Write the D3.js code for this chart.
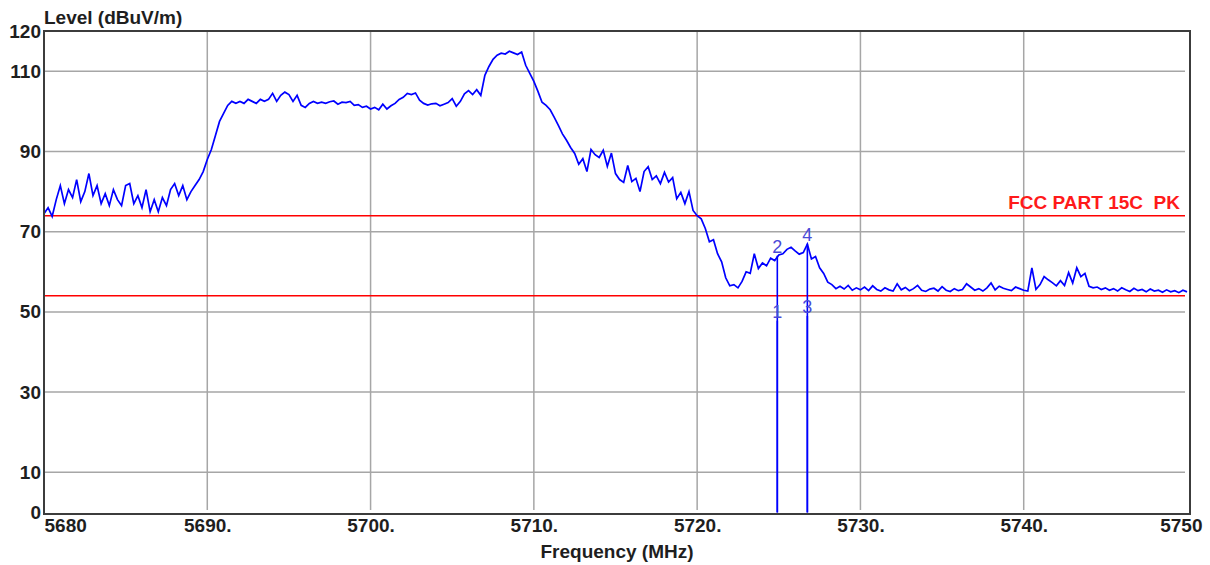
<!DOCTYPE html>
<html>
<head>
<meta charset="utf-8">
<script src="https://cdn.jsdelivr.net/npm/d3@7"></script>
<style>
  body { margin: 0; background: #fff; }
  text { font-family: "Liberation Sans", Arial, sans-serif; }
</style>
</head>
<body>
<div id="vis"></div>
<script>
// Sweep settings (MHz)
const freqStart = 5680;
const freqStep = 0.25;

// Measured level, one value per sweep step (dBuV/m)
const levels = [
  74.5, 76, 73.8, 78, 81.5, 77, 80.5, 78.5, 83, 77.5,
  80, 84.5, 79, 81.5, 77, 79.5, 76.5, 80.5, 78, 76.5,
  81.5, 82, 77, 79, 76, 80.5, 75, 78, 75, 78.5,
  76.5, 80.5, 82, 79, 81.5, 78, 80, 81.5, 83, 85,
  88,
  // 5690 - 5700
  90.5, 94, 97.5, 99.5, 101.5, 102.5, 102, 102.5, 102, 103,
  102.5, 102, 103, 102.5, 103, 104.5, 102.5, 104, 104.8, 104.2,
  102.5, 104, 101.5, 101, 102, 102.5, 102, 102.3, 102, 102.4,
  102.6, 101.8, 102.3, 102.2, 102.5, 101.5, 101.7, 101, 101.3, 100.6,
  // 5700 - 5710
  101, 100.4, 101.8, 100.6, 101.4, 102, 103, 103.5, 104.5, 104.2,
  104.6, 102.8, 102, 101.6, 101.9, 102, 101.4, 101.8, 102.2, 103.2,
  101.3, 102.5, 104.4, 105.2, 104.2, 105.4, 104, 109, 111.2, 113,
  114, 114.5, 114.3, 115, 114.6, 114.2, 114.8, 111.5, 109.5, 107.5,
  // 5710 - 5720
  105, 102.3, 101.5, 100.4, 98.5, 96.5, 94.4, 92.8, 91, 89.5,
  86.8, 88.2, 85, 90.5, 89.2, 88.5, 90.3, 86.3, 89.6, 84.5,
  83, 82.3, 86.5, 82.5, 83.3, 80, 85, 86.2, 83, 83.9,
  82, 84.8, 82.4, 83.5, 78.2, 79.8, 77, 80, 75.3, 74,
  // 5720 - 5730
  73.2, 70.8, 67.5, 68, 64.5, 62.5, 58.5, 56.5, 56.8, 56,
  57.6, 60, 59.6, 64.5, 60.8, 62.2, 61.5, 63.4, 62.8, 64.2,
  64.5, 65.6, 66.1, 65.2, 64.4, 64.8, 66.9, 63.2, 63.8, 61,
  59.6, 57.4, 56.8, 55.8, 56.4, 55.7, 56.6, 55.4, 56, 55.5,
  // 5730 - 5740
  56.2, 55.3, 56.5, 55.6, 55.2, 56, 55.5, 55.2, 57, 55.5,
  56.1, 55.3, 55.8, 56.6, 55.4, 55.1, 55.7, 55.9, 55.2, 56.3,
  55.4, 55.1, 55.8, 55.3, 55.6, 57, 56.2, 55.4, 55.8, 55.2,
  56, 57.2, 55.5, 56.4, 55.9, 55.6, 55.3, 56.2, 55.8, 55.4,
  // 5740 - 5750
  55.2, 61, 55.6, 56.8, 58.8, 58, 57.3, 56.5, 57.8, 56.6,
  59.8, 57.2, 61, 58.8, 59.6, 56.4, 56, 56.2, 55.6, 56,
  55.4, 55.8, 55.2, 56, 55.5, 55.1, 55.9, 55.3, 55.6, 55,
  55.7, 55.2, 55.4, 54.9, 55.5, 55, 55.3, 54.8, 55.4, 55
];

// Limit lines
const limitLevels = [74, 54];
const limitLabel = "FCC PART 15C  PK";

// Markers
const markerFreqs = [5724.91, 5724.91, 5726.75, 5726.75];
const markerLevels = [47.8, 64.0, 49.0, 67.0];
const markerLabels = ["1", "2", "3", "4"];

// Axis ticks
const yTicks = [0, 10, 30, 50, 70, 90, 110, 120];
const yGrid = [10, 30, 50, 70, 90, 110];
const xTicks = [5680, 5690, 5700, 5710, 5720, 5730, 5740, 5750];
const xGrid = [5690, 5700, 5710, 5720, 5730, 5740];

const W = 1210, H = 565;
const plot = { left: 44, right: 1190, top: 31, bottom: 514 };

const svg = d3.select("#vis").append("svg")
  .attr("width", W)
  .attr("height", H);

const x = d3.scaleLinear().domain([5680, 5750]).range([44, 1187]);
const y = d3.scaleLinear().domain([0, 120]).range([512.4, 31.2]);

// Grid
svg.append("g")
  .selectAll("line")
  .data(yGrid)
  .join("line")
  .attr("x1", plot.left)
  .attr("x2", 1185)
  .attr("y1", d => y(d))
  .attr("y2", d => y(d))
  .attr("stroke", "#a6a6a6")
  .attr("stroke-width", 1.5);

svg.append("g")
  .selectAll("line")
  .data(xGrid)
  .join("line")
  .attr("x1", d => x(d))
  .attr("x2", d => x(d))
  .attr("y1", plot.top)
  .attr("y2", 510)
  .attr("stroke", "#a6a6a6")
  .attr("stroke-width", 1.5);

// Limit lines
svg.append("g")
  .selectAll("line")
  .data(limitLevels)
  .join("line")
  .attr("x1", plot.left)
  .attr("x2", 1185)
  .attr("y1", d => y(d))
  .attr("y2", d => y(d))
  .attr("stroke", "#ff0000")
  .attr("stroke-width", 1.5);

svg.append("text")
  .attr("x", 1180)
  .attr("y", y(limitLevels[0]) - 7)
  .attr("text-anchor", "end")
  .attr("fill", "#ff1a1a")
  .style("font-size", "19px")
  .style("font-weight", "bold")
  .style("white-space", "pre")
  .text(limitLabel);

// Trace
const traceData = levels.map((v, i) => ({ f: freqStart + i * freqStep, v }));
const line = d3.line().x(d => x(d.f)).y(d => y(d.v));

svg.append("path")
  .datum(traceData)
  .attr("d", line)
  .attr("fill", "none")
  .attr("stroke", "#0000ff")
  .attr("stroke-width", 1.7)
  .attr("stroke-linejoin", "miter");

// Markers
const markers = markerFreqs.map((f, i) => ({ f, v: markerLevels[i], label: markerLabels[i] }));

svg.append("g")
  .selectAll("line")
  .data(markers)
  .join("line")
  .attr("x1", d => x(d.f))
  .attr("x2", d => x(d.f))
  .attr("y1", y(0))
  .attr("y2", d => y(d.v))
  .attr("stroke", "#0000ff")
  .attr("stroke-width", 1.6);

svg.append("g")
  .selectAll("text")
  .data(markers)
  .join("text")
  .attr("x", d => x(d.f))
  .attr("y", d => y(d.v) - 3)
  .attr("text-anchor", "middle")
  .attr("fill", "#4a4ad8")
  .style("font-size", "18px")
  .text(d => d.label);

// Frame
svg.append("rect")
  .attr("x", plot.left)
  .attr("y", plot.top)
  .attr("width", plot.right - plot.left)
  .attr("height", plot.bottom - plot.top)
  .attr("fill", "none")
  .attr("stroke", "#3c3c3c")
  .attr("stroke-width", 2);

// Axes (labels only)
const yAxis = svg.append("g")
  .attr("transform", `translate(${plot.left - 2},0)`)
  .call(d3.axisLeft(y).tickValues(yTicks).tickSize(0).tickPadding(1));

const xAxis = svg.append("g")
  .attr("transform", `translate(0,${plot.bottom})`)
  .call(d3.axisBottom(x).tickValues(xTicks).tickSize(0).tickPadding(5)
    .tickFormat(d => (d === 5680 || d === 5750) ? d : d + "."));

[yAxis, xAxis].forEach(a => {
  a.select(".domain").remove();
  a.selectAll("text")
    .attr("fill", "#1e1e1e")
    .style("font-family", "'Liberation Sans', Arial, sans-serif")
    .style("font-size", "19px")
    .style("font-weight", "bold");
});

xAxis.selectAll(".tick text")
  .attr("text-anchor", d => d === 5680 ? "start" : d === 5750 ? "end" : "middle")
  .attr("dx", d => d === 5750 ? 15 : 0);

// Axis titles
svg.append("text")
  .attr("x", plot.left)
  .attr("y", 24)
  .attr("fill", "#1e1e1e")
  .style("font-size", "19px")
  .style("font-weight", "bold")
  .text("Level (dBuV/m)");

svg.append("text")
  .attr("x", 617)
  .attr("y", 558)
  .attr("text-anchor", "middle")
  .attr("fill", "#1e1e1e")
  .style("font-size", "19px")
  .style("font-weight", "bold")
  .text("Frequency (MHz)");
</script>
</body>
</html>
